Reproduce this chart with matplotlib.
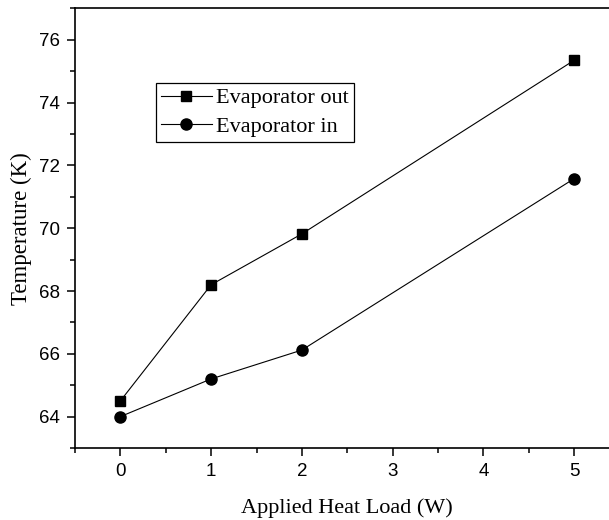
import matplotlib.pyplot as plt
from matplotlib.ticker import MultipleLocator

# data
heat_load = [0, 1, 2, 5]
evap_out = [64.5, 68.2, 69.82, 75.35]
evap_in = [64.0, 65.2, 66.12, 71.58]

fig = plt.figure(figsize=(6.09, 5.2), dpi=100)
# axes runs past the right edge of the figure like in the original
ax = fig.add_axes([75 / 609, 72 / 520, 544.5 / 609, 439.5 / 520])

ax.plot(heat_load, evap_out, color='black', lw=0.8, marker='s', ms=7,
        label='Evaporator out')
ax.plot(heat_load, evap_in, color='black', lw=0.8, marker='o', ms=8,
        label='Evaporator in')

ax.set_xlim(-0.5, 5.5)
ax.set_ylim(63, 77)
ax.xaxis.set_major_locator(MultipleLocator(1))
ax.xaxis.set_minor_locator(MultipleLocator(0.5))
ax.yaxis.set_major_locator(MultipleLocator(2))
ax.yaxis.set_minor_locator(MultipleLocator(1))

ax.spines['right'].set_visible(False)
for s in ['left', 'top', 'bottom']:
    ax.spines[s].set_linewidth(1.2)

ax.tick_params(which='both', direction='out', width=1.1, top=False, right=False)
ax.tick_params(which='major', length=6, labelsize=13.5, pad=5)
ax.tick_params(which='minor', length=3.5)
for lab in ax.get_xticklabels() + ax.get_yticklabels():
    lab.set_fontfamily('Liberation Sans')

ax.set_xlabel('Applied Heat Load (W)', fontfamily='Liberation Serif',
              fontsize=16, labelpad=13)
ax.set_ylabel('Temperature (K)', fontfamily='Liberation Serif',
              fontsize=16.5, labelpad=5)

# legend box
leg = ax.legend(loc='upper left', bbox_to_anchor=(156 / 609, 1 - 83 / 520),
                bbox_transform=fig.transFigure, frameon=True, fancybox=False,
                edgecolor='black', framealpha=1, handlelength=2.3,
                handletextpad=0.2, borderpad=0.22, labelspacing=0.35,
                borderaxespad=0, prop={'family': 'Liberation Serif', 'size': 16})
leg.get_frame().set_linewidth(0.9)

fig.savefig('out.png', dpi=100)
